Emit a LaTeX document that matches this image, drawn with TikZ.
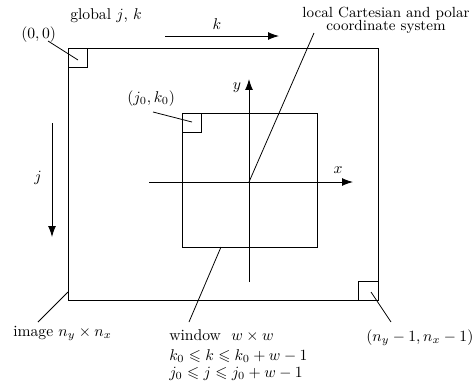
\documentclass[tikz,border=0pt]{standalone}
\usepackage{amsmath,amssymb}
\usetikzlibrary{arrows.meta,positioning}
\tikzset{
  ax/.style={-{Latex[length=7pt,width=5pt]}, line width=0.55pt},
  frm/.style={line width=0.55pt},
  ldr/.style={line width=0.5pt},
  lbl/.style={inner sep=0pt},
  txt/.style={inner sep=0pt, anchor=base west},
}

\begin{document}
\begin{tikzpicture}[x=0.64pt, y=-0.64pt]
  \useasboundingbox (0,0) rectangle (474,385);
  % image frame with corner pixels
  \coordinate (imgnw) at (68,48);
  \coordinate (imgse) at (378,300);
  \draw[frm] (imgnw) rectangle (imgse);
  \draw[frm] (imgnw) rectangle ++(19,19);
  \draw[frm] (imgse) rectangle ++(-20,-19);
  \coordinate (pxnw) at (78,60);
  \coordinate (pxse) at (371,292);
  \coordinate (imgsw) at (68,292);
  % window
  \coordinate (winnw) at (182,113);
  \coordinate (winse) at (317,247);
  \draw[frm] (winnw) rectangle (winse);
  \draw[frm] (winnw) rectangle ++(19,19);
  \coordinate (pxwin) at (192,122);
  \coordinate (winbot) at (221,247);
  % local axes
  \coordinate (orig) at (249,182);
  \coordinate (xs) at (149,182); \coordinate (xe) at (353,182);
  \coordinate (ys) at (249,282); \coordinate (ye) at (249,79);
  \draw[ax] (xs) -- (xe);
  \draw[ax] (ys) -- (ye);
  \node[lbl] (xlab) at (338,170) {$x$};
  \node[lbl] (ylab) at (237,88) {$y$};
  % global index directions
  \coordinate (ks) at (165,36); \coordinate (ke) at (279,36);
  \draw[ax] (ks) -- (ke);
  \node[lbl] (klab) at (217,24) {$k$};
  \coordinate (js) at (52,123); \coordinate (je) at (52,237);
  \draw[ax] (js) -- (je);
  \node[lbl] (jlab) at (38,178) {$j$};
  % labels
  \node[txt] (glob) at (70,19) {global $j$, $k$};
  \node[txt] (zero) at (21,38) {$(0,0)$};
  \node[txt] (jk) at (127,102) {$(j_0,k_0)$};
  \node[lbl, anchor=base] (loc1) at (386,17) {\fontsize{9.4}{11}\selectfont local Cartesian and polar};
  \node[lbl, anchor=base] (loc2) at (386,30) {\fontsize{9.4}{11}\selectfont coordinate system};
  \node[txt] (img) at (13,336) {image $n_y\times n_x$};
  \node[txt] (last) at (366,341) {$(n_y-1,n_x-1)$};
  \node[txt] (win1) at (169,340) {window\ \ $w\times w$};
  \node[txt] (win2) at (169,360) {$k_0\leqslant k\leqslant k_0+w-1$};
  \node[txt] (win3) at (169,377) {$j_0\leqslant j\leqslant j_0+w-1$};
  % leader ends
  \coordinate (zerol) at (48,41);
  \coordinate (jkl) at (153,112);
  \coordinate (locl) at (314,33);
  \coordinate (imgl) at (38,322);
  \coordinate (lastl) at (391,322);
  \coordinate (winl) at (189,322);
  % leaders
  \draw[ldr] (zerol) -- (pxnw);
  \draw[ldr] (jkl) -- (pxwin);
  \draw[ldr] (locl) -- (orig);
  \draw[ldr] (imgl) -- (imgsw);
  \draw[ldr] (lastl) -- (pxse);
  \draw[ldr] (winl) -- (winbot);
\end{tikzpicture}
\end{document}
